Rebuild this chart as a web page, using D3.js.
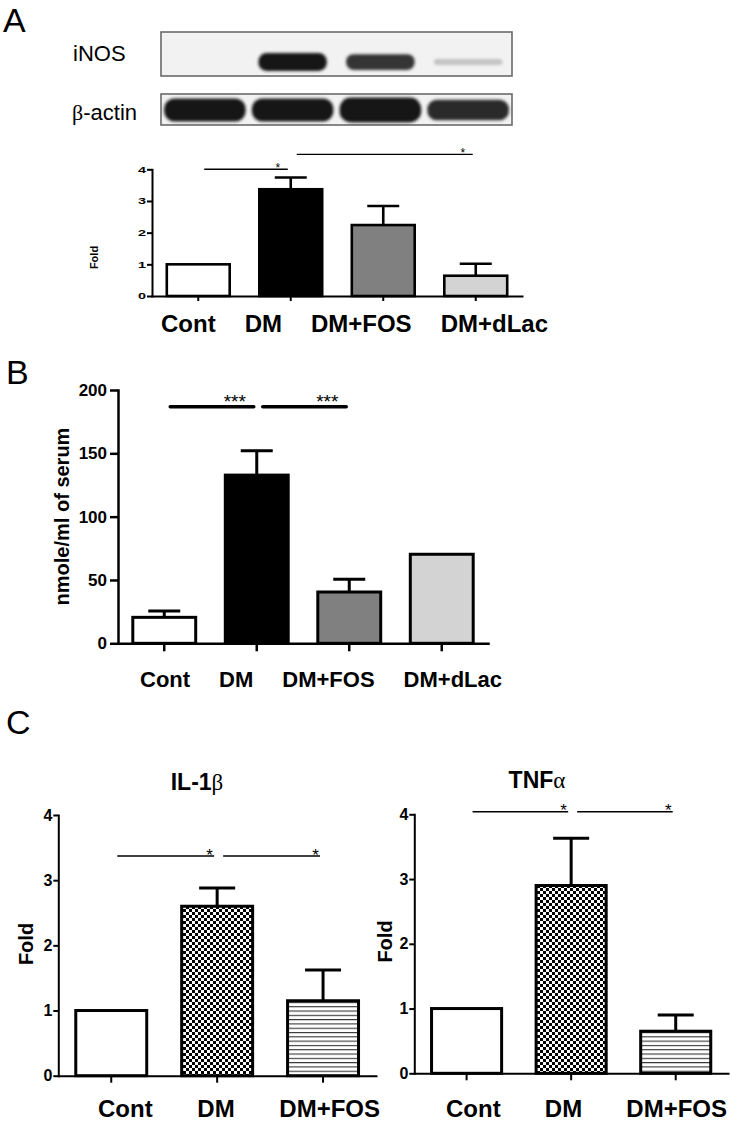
<!DOCTYPE html>
<html><head><meta charset="utf-8">
<script src="https://cdn.jsdelivr.net/npm/d3@7"></script>
<style>
body{margin:0;background:#fff}
svg{display:block}
text{font-family:"Liberation Sans",Arial,Helvetica,sans-serif;fill:#000}
</style>
</head><body><script>
// ---------------- data ----------------
const groupsA = ["Cont", "DM", "DM+FOS", "DM+dLac"];
const inosFold = [1.0, 3.37, 2.24, 0.64];
const inosFoldSEM = [0, 0.37, 0.60, 0.38];
const nitrite = [20.5, 132.8, 40.5, 70.3];
const nitriteSEM = [5.0, 19.2, 10.0, 0];
const groupsC = ["Cont", "DM", "DM+FOS"];
const il1b = [1.0, 2.60, 1.15];
const il1bSEM = [0, 0.28, 0.47];
const tnfa = [1.0, 2.90, 0.65];
const tnfaSEM = [0, 0.73, 0.25];
const inosBlot = [0, 1.0, 0.85, 0.2];      // relative band intensity
const actinBlot = [1.0, 1.0, 1.08, 0.9];
const foldTicks = [0, 1, 2, 3, 4];
const nitriteTicks = [0, 50, 100, 150, 200];
const sigA = [{from: "Cont", to: "DM", y: 4.0, label: "*"}, {from: "DM", to: "DM+dLac", y: 4.47, label: "*"}];
const sigB = [{from: "Cont", to: "DM", y: 186.7, label: "***"}, {from: "DM", to: "DM+FOS", y: 186.7, label: "***"}];
const sigIL = [{from: "Cont", to: "DM", y: 3.37, label: "*"}, {from: "DM", to: "DM+FOS", y: 3.37, label: "*"}];
const sigTNF = [{from: "Cont", to: "DM", y: 4.04, label: "*"}, {from: "DM", to: "DM+FOS", y: 4.04, label: "*"}];

// ---------------- setup ----------------
const svg = d3.select("body").append("svg").attr("width", 730).attr("height", 1121);
const defs = svg.append("defs");
const chk = defs.append("pattern").attr("id", "checker").attr("patternUnits", "userSpaceOnUse").attr("width", 6).attr("height", 6);
chk.append("rect").attr("width", 6).attr("height", 6).attr("fill", "#fff");
chk.append("rect").attr("width", 3).attr("height", 3).attr("fill", "#000");
chk.append("rect").attr("x", 3).attr("y", 3).attr("width", 3).attr("height", 3).attr("fill", "#000");
const stp = defs.append("pattern").attr("id", "hstripes").attr("patternUnits", "userSpaceOnUse").attr("width", 8).attr("height", 4.3);
stp.append("rect").attr("width", 8).attr("height", 4.3).attr("fill", "#fff");
stp.append("rect").attr("width", 8).attr("height", 1.1).attr("fill", "#333");
const blur = defs.append("filter").attr("id", "blur").attr("x", "-20%").attr("y", "-60%").attr("width", "140%").attr("height", "220%");
blur.append("feGaussianBlur").attr("stdDeviation", 1.4);

// panel letters
[["A", 3, 32], ["B", 6, 384], ["C", 6, 734]].forEach(([t, x, y]) =>
  svg.append("text").attr("x", x).attr("y", y).attr("font-size", 34).text(t));

// ---------------- western blot ----------------
const lane = d3.scaleBand().domain(groupsA).range([161, 512]);
const shade = d3.interpolateRgb("#eeeeee", "#151515");
function blot(y0, h, vals, wf, hBase, hGain, cy) {
  svg.append("rect").attr("x", 161).attr("y", y0).attr("width", 351).attr("height", h)
    .attr("fill", "#f2f2f2").attr("stroke", "#6a6a6a").attr("stroke-width", 1.6);
  const d = groupsA.map((g, i) => ({g, v: vals[i]})).filter(d => d.v > 0);
  svg.append("g").attr("filter", "url(#blur)").selectAll("rect").data(d).join("rect")
    .attr("x", d => lane(d.g) + lane.bandwidth() * (1 - wf) / 2)
    .attr("width", lane.bandwidth() * wf)
    .attr("y", d => cy - (hBase + hGain * d.v) / 2)
    .attr("height", d => hBase + hGain * d.v)
    .attr("rx", d => (hBase + hGain * d.v) / 2.2)
    .attr("fill", d => shade(Math.min(1, d.v)));
}
blot(32, 44, inosBlot, 0.78, 3, 15, 62);
blot(94, 31, actinBlot, 0.93, 0, 23, 110);
svg.append("text").attr("x", 73).attr("y", 61).attr("font-size", 22).text("iNOS");
const ba = svg.append("text").attr("x", 72).attr("y", 120).attr("font-size", 22);
ba.append("tspan").attr("font-family", "Liberation Serif, serif").text("β");
ba.append("tspan").text("-actin");

// ---------------- bar chart helper ----------------
function barPanel(o) {
  const x = d3.scaleBand().domain(o.cats).range(o.xr).paddingInner(o.pad).paddingOuter(o.pad / 2);
  const y = d3.scaleLinear().domain(o.yd).range(o.yr);
  const cx = c => x(c) + x.bandwidth() / 2;
  const g = svg.append("g");
  const data = o.cats.map((c, i) => ({c, v: o.vals[i], e: o.sems[i], f: o.fills[i]}));
  const eb = data.filter(d => d.e > 0);
  g.selectAll(".ev").data(eb).join("line").attr("class", "ev")
    .attr("x1", d => cx(d.c)).attr("x2", d => cx(d.c))
    .attr("y1", d => y(d.v)).attr("y2", d => y(d.v + d.e))
    .attr("stroke", "#000").attr("stroke-width", o.sw);
  g.selectAll(".ec").data(eb).join("line").attr("class", "ec")
    .attr("x1", d => cx(d.c) - o.cap).attr("x2", d => cx(d.c) + o.cap)
    .attr("y1", d => y(d.v + d.e)).attr("y2", d => y(d.v + d.e))
    .attr("stroke", "#000").attr("stroke-width", o.sw);
  g.selectAll(".bar").data(data).join("rect").attr("class", "bar")
    .attr("x", d => x(d.c)).attr("width", x.bandwidth())
    .attr("y", d => y(d.v)).attr("height", d => y(0) - y(d.v))
    .attr("fill", d => d.f).attr("stroke", "#000").attr("stroke-width", o.sw);

  const yg = g.append("g").attr("transform", `translate(${o.xr[0]},0)`)
    .call(d3.axisLeft(y).tickValues(o.ticks).tickFormat(d3.format("d")).tickSize(o.ytl).tickSizeOuter(0).tickPadding(o.ypad));
  const xg = g.append("g").attr("transform", `translate(0,${o.yr[0]})`)
    .call(d3.axisBottom(x).tickSize(o.xtl).tickSizeOuter(0).tickFormat(""));
  [yg, xg].forEach(a => {
    a.select(".domain").attr("stroke", "#000").attr("stroke-width", o.aw).attr("stroke-linecap", "square");
    a.selectAll(".tick line").attr("stroke", "#000").attr("stroke-width", o.aw);
  });
  yg.attr("font-size", o.tfs).attr("font-weight", "bold");
  if (o.tsx) {
    yg.selectAll(".tick text").attr("transform", `scale(${o.tsx},1)`).attr("x", -(o.ytl + o.ypad) / o.tsx);
  }

  // y title
  g.append("text").attr("transform", `translate(${o.yt[0]},${o.yt[1]}) rotate(-90)`)
    .attr("text-anchor", "middle").attr("dominant-baseline", "central")
    .attr("font-size", o.yfs).attr("font-weight", "bold").text(o.ytitle);

  // category labels, spread between the label extents
  const lbl = g.selectAll(".cl").data(o.cats).join("text").attr("class", "cl")
    .attr("y", o.lb).attr("font-size", o.lfs).attr("font-weight", "bold").text(d => d);
  const ws = lbl.nodes().map(n => n.getComputedTextLength());
  const gap = (o.flow[1] - o.flow[0] - d3.sum(ws)) / (ws.length - 1);
  let pos = o.flow[0];
  lbl.attr("x", (d, i) => { const p = pos; pos += ws[i] + gap; return p; });

  // significance bars
  const sx1 = s => cx(s.from) + 6, sx2 = s => cx(s.to) - 3;
  g.selectAll(".sl").data(o.sig).join("line").attr("class", "sl")
    .attr("x1", sx1).attr("x2", sx2).attr("y1", s => y(s.y)).attr("y2", s => y(s.y))
    .attr("stroke", "#000").attr("stroke-width", o.sigW).attr("stroke-linecap", o.sigCap || "butt");
  g.selectAll(".st").data(o.sig).join("text").attr("class", "st")
    .attr("x", s => sx2(s) - o.starIn).attr("y", s => y(s.y) + o.starDy)
    .attr("text-anchor", "middle").attr("font-size", o.starFs).text(s => s.label);

  if (o.title) {
    const t = g.append("text").attr("x", o.title[1]).attr("y", o.title[2]).attr("text-anchor", "middle").attr("font-size", 23);
    t.append("tspan").attr("font-weight", "bold").text(o.title[0][0]);
    t.append("tspan").attr("font-family", "Liberation Serif, serif").text(o.title[0][1]);
  }
}

const baseFills = ["#ffffff", "#000000", "#808080", "#d3d3d3"];
const patFills = ["#ffffff", "url(#checker)", "url(#hstripes)"];

barPanel({cats: groupsA, vals: inosFold, sems: inosFoldSEM, fills: baseFills,
  xr: [152, 522], yd: [0, 4], yr: [296, 169.3], ticks: foldTicks, pad: 0.32,
  ytl: 5, ypad: 1, xtl: 5, aw: 2, sw: 2.6, cap: 16, tfs: 9, tsx: 1.6,
  ytitle: "Fold", yt: [93.5, 257.5], yfs: 11,
  flow: [161, 548], lb: 332, lfs: 24,
  sig: sigA, sigW: 1.4, starIn: 10, starDy: 3, starFs: 12});

barPanel({cats: groupsA, vals: nitrite, sems: nitriteSEM, fills: baseFills,
  xr: [118, 488], yd: [0, 200], yr: [643.3, 390], ticks: nitriteTicks, pad: 0.32,
  ytl: 8, ypad: 3, xtl: 8, aw: 2.5, sw: 3, cap: 16, tfs: 17,
  ytitle: "nmole/ml of serum", yt: [62, 516.5], yfs: 20,
  flow: [140, 502], lb: 687, lfs: 22,
  sig: sigB, sigW: 3.5, sigCap: "round", starIn: 19, starDy: 1, starFs: 19});

barPanel({cats: groupsC, vals: il1b, sems: il1bSEM, fills: patFills,
  xr: [58.3, 376], yd: [0, 4], yr: [1075.7, 815], ticks: foldTicks, pad: 0.33,
  ytl: 5, ypad: 1, xtl: 7, aw: 2, sw: 3, cap: 18, tfs: 16,
  ytitle: "Fold", yt: [25.5, 944], yfs: 20,
  flow: [98, 380], lb: 1117, lfs: 24, title: [["IL-1", "β"], 197, 790],
  sig: sigIL, sigW: 1.5, starIn: 4.5, starDy: 5, starFs: 17});

barPanel({cats: groupsC, vals: tnfa, sems: tnfaSEM, fills: patFills,
  xr: [414.3, 728], yd: [0, 4], yr: [1073.3, 814.3], ticks: foldTicks, pad: 0.33,
  ytl: 5, ypad: 1, xtl: 7, aw: 2, sw: 3, cap: 18, tfs: 16,
  ytitle: "Fold", yt: [385, 941.5], yfs: 20,
  flow: [446, 727], lb: 1117, lfs: 24, title: [["TNF", "α"], 537, 788],
  sig: sigTNF, sigW: 1.5, starIn: 4.5, starDy: 4, starFs: 17});
</script></body></html>
